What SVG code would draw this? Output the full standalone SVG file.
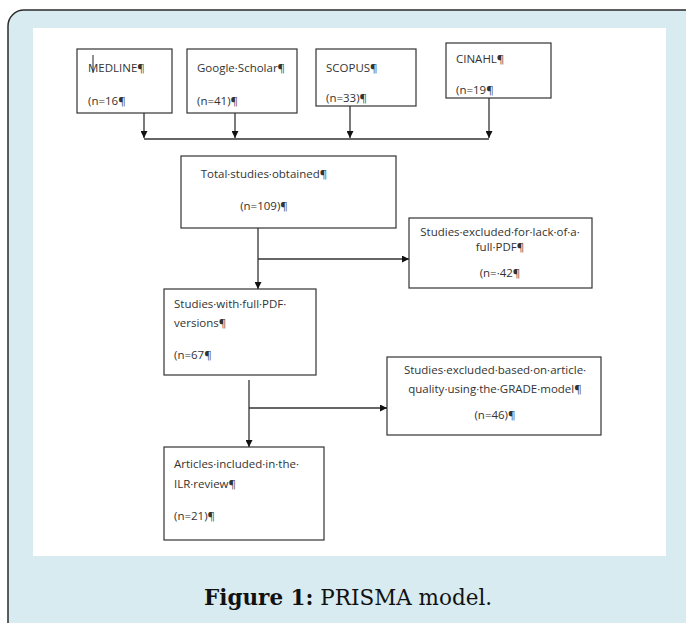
<svg xmlns="http://www.w3.org/2000/svg" width="686" height="623" viewBox="0 0 686 623">
<defs>
<marker id="ah" viewBox="0 0 10 10" refX="10" refY="5" markerWidth="7" markerHeight="7" markerUnits="userSpaceOnUse" orient="auto"><path d="M0,0 L10,5 L0,10 z" fill="#111"/></marker>
<style>
.box{fill:#fff;stroke:#333;stroke-width:1.2}
.t{font-family:"Open Sans","Liberation Sans",sans-serif;font-size:11.5px;fill:#333}
.c{text-anchor:middle}
.ln{stroke:#333;stroke-width:1.3;fill:none}
.ar{stroke:#333;stroke-width:1.3;fill:none;marker-end:url(#ah)}
</style>
</defs>
<rect x="8" y="10" width="700" height="640" rx="16" fill="#d8ebf0" stroke="#2b2b2b" stroke-width="1.5"/>
<rect x="33" y="28" width="633" height="528" fill="#fff"/>
<g id="connectors">
<path class="ar" d="M144,113 V138"/>
<path class="ar" d="M235,113 V138"/>
<path class="ar" d="M350,106 V138"/>
<path class="ar" d="M489,98 V138"/>
<path class="ln" d="M144,139 H489"/>
<path class="ar" d="M258,228 V289"/>
<path class="ar" d="M258,259 H409"/>
<path class="ln" d="M249,380 V400"/>
<path class="ar" d="M249,400 V447"/>
<path class="ar" d="M249,408 H387"/>
</g>
<g id="medline"><rect class="box" x="77" y="49" width="95" height="64"/><text class="t" x="88" y="72">MEDLINE¶</text><text class="t" x="88" y="105">(n=16¶</text><path d="M93,55 V73" stroke="#222" stroke-width="1"/></g>
<g id="google"><rect class="box" x="187" y="49" width="110" height="64"/><text class="t" x="197" y="72">Google·Scholar¶</text><text class="t" x="197" y="105">(n=41)¶</text></g>
<g id="scopus"><rect class="box" x="316" y="49" width="100" height="57"/><text class="t" x="326" y="72">SCOPUS¶</text><text class="t" x="326" y="102">(n=33)¶</text></g>
<g id="cinahl"><rect class="box" x="446" y="43" width="105" height="55"/><text class="t" x="456" y="63">CINAHL¶</text><text class="t" x="456" y="94">(n=19¶</text></g>
<g id="total"><rect class="box" x="181" y="156" width="215" height="72"/><text class="t c" x="264" y="178">Total·studies·obtained¶</text><text class="t c" x="264" y="210">(n=109)¶</text></g>
<g id="excl1"><rect class="box" x="409" y="218" width="183" height="70"/><text class="t c" x="500" y="236">Studies·excluded·for·lack·of·a·</text><text class="t c" x="500" y="251">full·PDF¶</text><text class="t c" x="500" y="277">(n=·42¶</text></g>
<g id="fullpdf"><rect class="box" x="164" y="289" width="152" height="86"/><text class="t" x="174" y="308">Studies·with·full·PDF·</text><text class="t" x="174" y="327">versions¶</text><text class="t" x="174" y="359">(n=67¶</text></g>
<g id="excl2"><rect class="box" x="387" y="357" width="214" height="78"/><text class="t c" x="495" y="374">Studies·excluded·based·on·article·</text><text class="t c" x="495" y="393">quality·using·the·GRADE·model¶</text><text class="t c" x="495" y="419">(n=46)¶</text></g>
<g id="included"><rect class="box" x="164" y="447" width="160" height="93"/><text class="t" x="174" y="468">Articles·included·in·the·</text><text class="t" x="174" y="488">ILR·review¶</text><text class="t" x="174" y="520">(n=21)¶</text></g>
<text x="204" y="605" font-family="'DejaVu Serif','Liberation Serif',serif" font-size="21.5" fill="#111"><tspan font-weight="bold">Figure 1:</tspan> PRISMA model.</text>
</svg>
